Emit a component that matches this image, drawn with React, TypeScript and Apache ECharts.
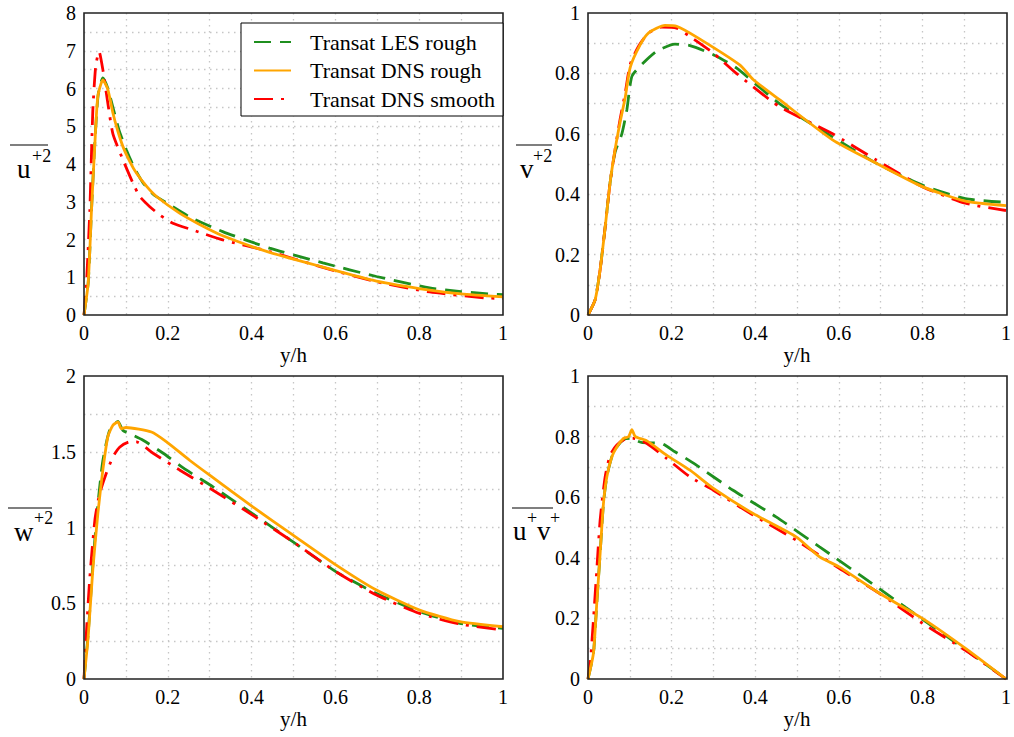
import React, { useEffect, useRef } from "react";
import * as echarts from "echarts";

const seriesNames = ["Transat LES rough", "Transat DNS rough", "Transat DNS smooth"];
const seriesColors = ["#1f8f1f", "#ffa500", "#ff0000"];
const xTicks = [0, 0.2, 0.4, 0.6, 0.8, 1];

// Panel 1: u'^2
const uuLES = [[0,0],[0.01,0.85],[0.018,2.8],[0.026,4.6],[0.034,5.85],[0.045,6.28],[0.057,6.0],[0.069,5.5],[0.085,4.85],[0.101,4.38],[0.12,3.9],[0.141,3.5],[0.165,3.2],[0.197,2.97],[0.252,2.6],[0.331,2.21],[0.443,1.77],[0.57,1.38],[0.698,1.02],[0.825,0.72],[0.9,0.62],[0.975,0.55],[1,0.54]];
const uuDNSr = [[0,0],[0.01,0.85],[0.018,2.8],[0.026,4.55],[0.033,5.79],[0.045,6.23],[0.057,5.97],[0.069,5.35],[0.08,4.9],[0.093,4.46],[0.11,4.05],[0.125,3.76],[0.15,3.4],[0.173,3.14],[0.228,2.7],[0.276,2.4],[0.331,2.1],[0.443,1.66],[0.57,1.27],[0.698,0.9],[0.825,0.66],[0.9,0.56],[1,0.48]];
const uuDNSs = [[0,0],[0.006,0.85],[0.014,2.8],[0.021,5.4],[0.028,6.6],[0.036,6.98],[0.045,6.5],[0.057,5.6],[0.069,4.8],[0.093,4.11],[0.117,3.49],[0.133,3.14],[0.157,2.87],[0.181,2.65],[0.212,2.43],[0.26,2.25],[0.331,1.99],[0.443,1.68],[0.57,1.26],[0.698,0.88],[0.825,0.61],[0.96,0.45],[1,0.44]];

// Panel 2: v'^2
const vvLES = [[0,0],[0.017,0.05],[0.029,0.15],[0.041,0.29],[0.053,0.44],[0.065,0.54],[0.081,0.6],[0.093,0.68],[0.105,0.79],[0.129,0.83],[0.164,0.873],[0.208,0.897],[0.244,0.892],[0.3,0.862],[0.355,0.818],[0.458,0.7],[0.585,0.59],[0.689,0.503],[0.8,0.43],[0.903,0.385],[1,0.373]];
const vvDNSr = [[0,0],[0.017,0.05],[0.029,0.15],[0.041,0.29],[0.053,0.44],[0.065,0.55],[0.077,0.64],[0.089,0.72],[0.101,0.82],[0.125,0.895],[0.145,0.934],[0.184,0.959],[0.212,0.956],[0.26,0.92],[0.363,0.828],[0.395,0.78],[0.458,0.713],[0.585,0.58],[0.689,0.503],[0.8,0.425],[0.903,0.377],[1,0.362]];
const vvDNSs = [[0,0],[0.017,0.05],[0.029,0.15],[0.041,0.29],[0.053,0.44],[0.065,0.55],[0.077,0.65],[0.089,0.735],[0.101,0.83],[0.121,0.89],[0.145,0.934],[0.176,0.953],[0.212,0.95],[0.244,0.922],[0.3,0.867],[0.355,0.8],[0.458,0.69],[0.585,0.6],[0.689,0.514],[0.8,0.425],[0.903,0.37],[1,0.346]];

// Panel 3: w'^2
const wwLES = [[0,0],[0.01,0.3],[0.021,0.75],[0.033,1.15],[0.045,1.44],[0.061,1.64],[0.081,1.7],[0.093,1.64],[0.109,1.62],[0.141,1.576],[0.189,1.49],[0.244,1.38],[0.308,1.268],[0.403,1.09],[0.499,0.905],[0.602,0.707],[0.698,0.565],[0.801,0.444],[0.897,0.367],[1,0.334]];
const wwDNSr = [[0,0],[0.01,0.28],[0.021,0.72],[0.033,1.09],[0.045,1.38],[0.057,1.6],[0.069,1.675],[0.081,1.697],[0.089,1.653],[0.1,1.66],[0.161,1.63],[0.197,1.565],[0.252,1.444],[0.3,1.345],[0.403,1.136],[0.499,0.95],[0.602,0.752],[0.698,0.587],[0.801,0.455],[0.897,0.378],[1,0.345]];
const wwDNSs = [[0,0],[0.006,0.32],[0.014,0.675],[0.026,1.05],[0.037,1.22],[0.053,1.356],[0.069,1.466],[0.085,1.53],[0.109,1.565],[0.125,1.565],[0.165,1.49],[0.228,1.38],[0.308,1.246],[0.403,1.08],[0.499,0.905],[0.602,0.707],[0.698,0.554],[0.801,0.433],[0.897,0.363],[1,0.323]];

// Panel 4: u'v'
const uvLES = [[0,0],[0.013,0.085],[0.021,0.25],[0.029,0.414],[0.037,0.58],[0.045,0.667],[0.057,0.733],[0.069,0.766],[0.085,0.79],[0.1,0.794],[0.13,0.78],[0.172,0.779],[0.208,0.75],[0.256,0.709],[0.347,0.623],[0.45,0.535],[0.554,0.436],[0.657,0.337],[0.76,0.236],[0.856,0.143],[0.935,0.065],[1,0]];
const uvDNSr = [[0,0],[0.013,0.085],[0.021,0.25],[0.029,0.414],[0.037,0.58],[0.045,0.667],[0.057,0.733],[0.069,0.766],[0.085,0.794],[0.097,0.8],[0.105,0.823],[0.113,0.8],[0.141,0.786],[0.188,0.739],[0.244,0.689],[0.3,0.629],[0.395,0.546],[0.498,0.469],[0.554,0.403],[0.601,0.37],[0.697,0.283],[0.8,0.2],[0.903,0.101],[1,0]];
const uvDNSs = [[0,0],[0.006,0.063],[0.013,0.195],[0.021,0.36],[0.029,0.524],[0.041,0.667],[0.053,0.739],[0.069,0.772],[0.093,0.794],[0.109,0.794],[0.141,0.777],[0.188,0.728],[0.244,0.667],[0.3,0.623],[0.395,0.541],[0.498,0.458],[0.601,0.365],[0.697,0.283],[0.8,0.184],[0.903,0.095],[1,0]];

const panels = [
  { data: [uuLES, uuDNSr, uuDNSs], yMax: 8, yInterval: 1 },
  { data: [vvLES, vvDNSr, vvDNSs], yMax: 1, yInterval: 0.2 },
  { data: [wwLES, wwDNSr, wwDNSs], yMax: 2, yInterval: 0.5 },
  { data: [uvLES, uvDNSr, uvDNSs], yMax: 1, yInterval: 0.2 },
];

const FONT = "'Liberation Serif', 'Times New Roman', serif";

export default function App() {
  const ref = useRef<HTMLDivElement>(null);
  useEffect(() => {
    document.body.style.margin = "0";
    const chart = echarts.init(ref.current!, null, { renderer: "svg" });
    const gridBoxes = [
      { left: 84, top: 13, width: 419, height: 302 },
      { left: 588, top: 13, width: 419, height: 302 },
      { left: 84, top: 376, width: 419, height: 303 },
      { left: 588, top: 376, width: 419, height: 303 },
    ];
    const grids = gridBoxes.map((g) => ({ ...g, show: false }));
    const gridLine = { show: true, showMinLine: false, showMaxLine: false, lineStyle: { type: [1.5, 4.5], color: "#c6c6c6", width: 1.3 } };
    const label = { fontFamily: FONT, fontSize: 20, color: "#000" };
    const xAxis = panels.map((_, i) => ({
      type: "value", gridIndex: i, min: xTicks[0], max: xTicks[xTicks.length - 1], interval: 0.2,
      axisLine: { show: false }, axisTick: { show: false },
      axisLabel: { ...label, margin: 8 },
      splitLine: gridLine, minorTick: { show: false, splitNumber: 2 }, minorSplitLine: gridLine,
      name: "y/h", nameLocation: "middle", nameGap: 29,
      nameTextStyle: { fontFamily: FONT, fontSize: 21, color: "#000" },
    }));
    const yAxis = panels.map((p, i) => ({
      type: "value", gridIndex: i, min: 0, max: p.yMax, interval: p.yInterval,
      axisLine: { show: false }, axisTick: { show: false },
      axisLabel: { ...label, margin: 8 },
      splitLine: gridLine, minorTick: { show: false, splitNumber: 2 }, minorSplitLine: gridLine,
    }));
    const dashes = [[17, 9], null, [19, 8, 3, 8]];
    const series: any[] = [];
    panels.forEach((p, i) => {
      p.data.forEach((d, k) => {
        series.push({
          type: "line", name: seriesNames[k], xAxisIndex: i, yAxisIndex: i, data: d,
          symbol: "none", showSymbol: false, smooth: 0.2, z: 3 + (k === 1 ? 1 : 0),
          lineStyle: { color: seriesColors[k], width: 2.8, type: dashes[k] ?? "solid" },
          itemStyle: { color: seriesColors[k] },
        });
      });
    });
    const txt = (text: string, x: number, y: number, size: number) => ({
      type: "text", x, y, style: { text, fontFamily: FONT, fontSize: size, fill: "#000", align: "left", verticalAlign: "middle" },
    });
    const bar = (x1: number, x2: number, y: number) => ({
      type: "line", shape: { x1, y1: y, x2, y2: y }, style: { stroke: "#000", lineWidth: 1.2 },
    });
    const frames = gridBoxes.map((g) => ({
      type: "rect", z: 10, silent: true,
      shape: { x: g.left, y: g.top, width: g.width, height: g.height },
      style: { fill: "none", stroke: "#222", lineWidth: 1.6 },
    }));
    const graphic = [
      ...frames,
      bar(10, 48, 145), txt("u", 17, 169, 27), txt("+2", 32, 156, 18),
      bar(516, 552, 145), txt("v", 520, 169, 27), txt("+2", 533, 156, 18),
      bar(8, 52, 508), txt("w", 14, 532, 27), txt("+2", 34, 518, 18),
      bar(512, 553, 508), txt("u", 513, 531, 27), txt("+", 527, 518, 18), txt("v", 537, 531, 27), txt("+", 550, 518, 18),
    ];
    chart.setOption({
      animation: false,
      backgroundColor: "#fff",
      grid: grids,
      xAxis, yAxis, series, graphic,
      legend: {
        data: seriesNames, orient: "vertical", left: 241, top: 23, z: 12,
        backgroundColor: "#fff", borderColor: "#000", borderWidth: 1,
        padding: [8, 8, 6, 12], itemWidth: 37, itemHeight: 14, itemGap: 6.5,
        itemStyle: { opacity: 0 },
        textStyle: { fontFamily: FONT, fontSize: 22, color: "#000", padding: [0, 0, 0, 14] },
      },
    });
    return () => chart.dispose();
  }, []);
  return <div ref={ref} style={{ width: 1014, height: 737, position: "absolute", left: 0, top: 0 }} />;
}
